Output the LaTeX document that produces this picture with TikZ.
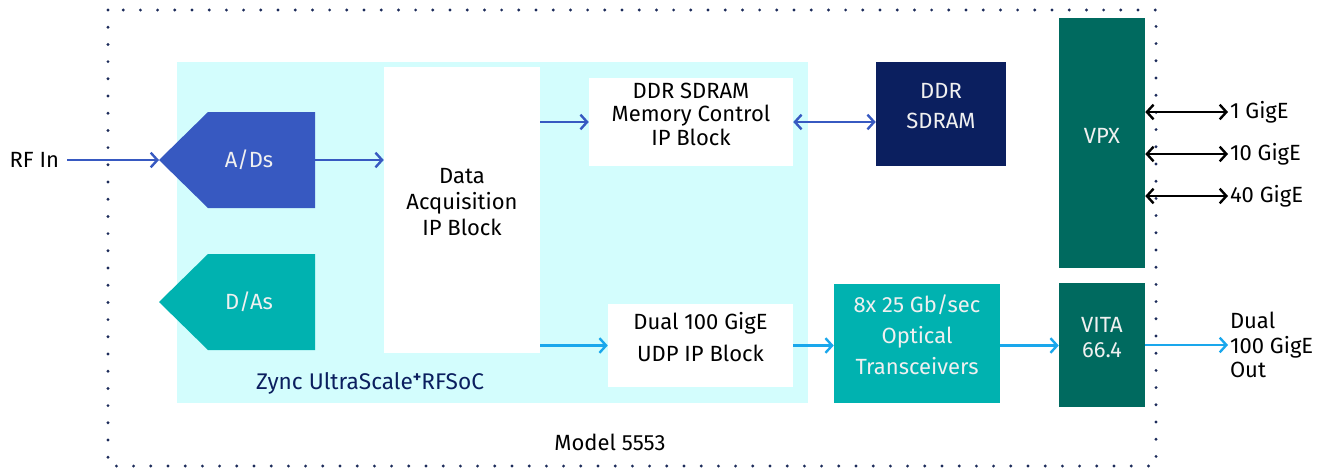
\documentclass[tikz,border=0pt]{standalone}
\usepackage{fontspec}
\setmainfont{Fira Sans}
\usetikzlibrary{positioning}
\usetikzlibrary{arrows.meta}
\usetikzlibrary{fit}
\definecolor{socbg}{HTML}{D3FDFD}
\definecolor{adblue}{HTML}{3759C1}
\definecolor{dateal}{HTML}{00B2B0}
\definecolor{navy}{HTML}{0B1F5F}
\definecolor{vpxgreen}{HTML}{006A5F}
\definecolor{ethblue}{HTML}{1AA7EC}
\definecolor{dotnavy}{HTML}{1C2B5A}

\begin{document}
\begin{tikzpicture}[x=0.75pt, y=-0.75pt, font=\fontsize{16.5}{17.5}\selectfont,
	>={Straight Barb[length=5pt,width=11pt]},
	blk/.style = {inner sep=0pt, align=center},
	wbox/.style = {blk, fill=white},
	cbox/.style = {blk, text=white!94!black},
	flow/.style = {line width=1.8pt, ->},
	both/.style = {line width=1.8pt, <->}]
	\useasboundingbox (0,0) rectangle (1325,469);
	% board outline
	\draw[dotnavy, line width=2.4pt, line cap=round, dash pattern=on 0pt off 12.9pt]
		(108,10) rectangle (1156,466);
	\node[blk, fill=socbg, fit={(177,62) (808,403)}] (soc) {};
	\node[text=navy, font=\fontsize{17}{20}\selectfont] (soclbl) at (370,383)
		{Zync UltraScale\raisebox{0.3em}{\fontsize{12}{12}\selectfont\textbf{+}}RFSoC};
	\node[blk] (model) at (610,442) {Model 5553};
	% converters
	\fill[adblue] (208,112) -- (315,112) -- (315,208) -- (208,208) -- (159,160) -- cycle;
	\fill[dateal] (208,254) -- (315,254) -- (315,350) -- (208,350) -- (159,302) -- cycle;
	\node[cbox] (ad) at (249,160) {A/Ds};
	\node[cbox] (da) at (249,302) {D/As};
	\coordinate (adin) at (159,160);
	\coordinate (adout) at (315,160);
	\node[blk, anchor=east, outer xsep=6pt] (rfin) at (67,160) {RF In};
	% fpga blocks
	\node[wbox, fit={(384,67) (540,353)}] (daq) {Data\\[2pt]Acquisition\\[2pt]IP Block};
	\node[wbox, fit={(589,78) (793,166)}] (ddrctl) {DDR SDRAM\\Memory Control\\IP Block};
	\node[wbox, fit={(608,304) (793,387)}] (udp) {Dual 100 GigE\\[6pt]UDP IP Block};
	\node[cbox, fill=navy, fit={(876,62) (1006,166)}] (ddr) {DDR\\[5pt]SDRAM};
	\node[cbox, fill=dateal, fit={(834,284) (1000,403)}] (optic) {8x 25 Gb/sec\\[6pt]Optical\\[6pt]Transceivers};
	\node[cbox, fill=vpxgreen, fit={(1059,18) (1145,268)}] (vpx) {VPX};
	\node[cbox, fill=vpxgreen, fit={(1059,283) (1145,407)}] (vita) {VITA\\[1pt]66.4};
	% outputs
	\node[blk, anchor=west, outer xsep=1.5pt] (g1) at (1228,112) {1 GigE};
	\node[blk, anchor=west, outer xsep=1.5pt] (g10) at (1228,154) {10 GigE};
	\node[blk, anchor=west, outer xsep=1.5pt] (g40) at (1228,196) {40 GigE};
	\node[blk, anchor=west, align=left, outer xsep=1.5pt] (out) at (1228,345) {Dual\\[1pt]100 GigE\\[1pt]Out};
	% connectors
	\draw[flow, adblue] (rfin.east) -- (adin);
	\draw[flow, adblue] (adout) -- (daq.west |- adout);
	\draw[flow, adblue] (daq.east |- ddrctl.west) -- (ddrctl.west);
	\draw[both, adblue] (ddrctl.east) -- (ddr.west |- ddrctl.east);
	\draw[flow, ethblue] (daq.east |- udp.west) -- (udp.west);
	\draw[flow, ethblue] (udp.east) -- (optic.west |- udp.east);
	\draw[flow, ethblue] (optic.east |- udp.east) -- (vita.west |- udp.east);
	\draw[flow, ethblue] (vita.east |- out.west) -- (out.west);
	\foreach \g in {g1,g10,g40}
		\draw[both] (vpx.east |- \g.west) -- (\g.west);
\end{tikzpicture}
\end{document}
